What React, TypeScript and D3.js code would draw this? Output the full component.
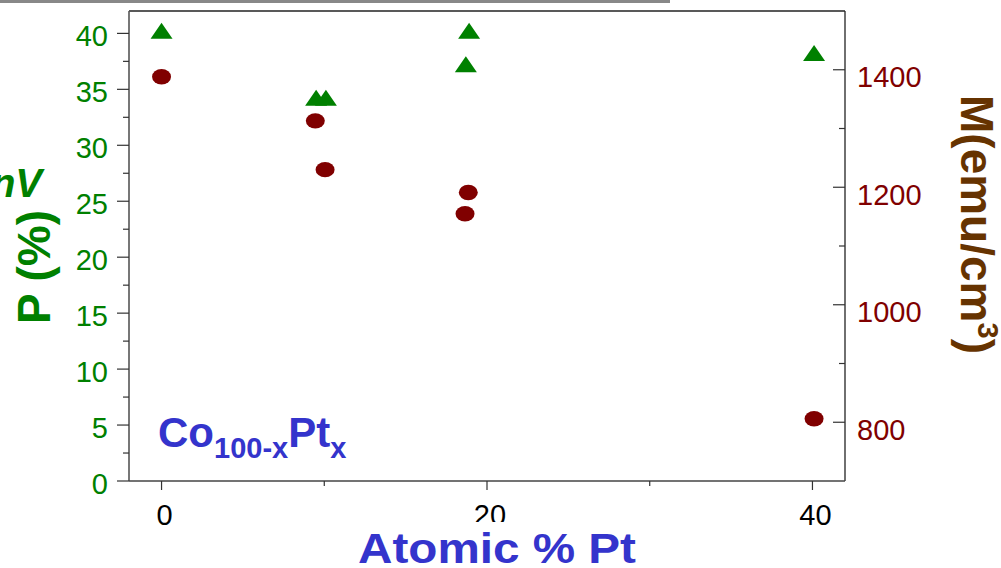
import React from 'react';
import * as d3 from 'd3';

// Atomic % Pt for each measured sample
const pX = [0, 9.5, 10.1, 18.9, 18.7, 40.1];
const pValues = [40, 34, 34, 40, 37, 38]; // P (%)
const mX = [0, 9.45, 10.05, 18.85, 18.65, 40.1];
const mValues = [1388, 1313, 1230, 1191, 1155, 806]; // M (emu/cm3)

const xTicks = [0, 20, 40];
const xMinorTicks = [10, 30];
const pTicks = [0, 5, 10, 15, 20, 25, 30, 35, 40];
const pMinorTicks = [2.5, 7.5, 12.5, 17.5, 22.5, 27.5, 32.5, 37.5];
const mTicks = [800, 1000, 1200, 1400];
const mMinorTicks = [900, 1100, 1300];

const W = 1001;
const H = 568;
const L = 129, R = 845, T = 11, B = 481;

const GREEN = '#008000';
const RED = '#800000';
const BROWN = '#663300';
const BLUE = '#3434cc';
const FONT = '"Liberation Sans", Arial, sans-serif';

export default function App() {
  const x = d3.scaleLinear().domain([-2, 42]).range([L, R]);
  const yP = d3.scaleLinear().domain([0, 42]).range([B, T]);
  const yM = d3.scaleLinear().domain([700, 1500]).range([B, T]);

  const tri = (cx: number, cy: number) => {
    const path = d3.path();
    path.moveTo(cx, cy - 10.7);
    path.lineTo(cx + 11, cy + 5.3);
    path.lineTo(cx - 11, cy + 5.3);
    path.closePath();
    return path.toString();
  };

  return (
    <div style={{ position: 'fixed', left: 0, top: 0 }}>
      <svg width={W} height={H} style={{ display: 'block', background: '#fff' }}>
        <rect x={0} y={0} width={670} height={3} fill="#888" />

        {/* frame */}
        <line x1={L} y1={T} x2={R} y2={T} stroke="#222" strokeWidth={1.3} />
        <line x1={R} y1={T} x2={R} y2={B} stroke="#222" strokeWidth={1.3} />
        <line x1={L} y1={T} x2={L} y2={B} stroke="#555" strokeWidth={1.6} />
        <line x1={L} y1={B} x2={R} y2={B} stroke="#444" strokeWidth={1.5} />

        {/* left axis ticks */}
        {pTicks.map((v) => (
          <g key={'pt' + v}>
            <line x1={117} x2={L} y1={yP(v)} y2={yP(v)} stroke="#333" strokeWidth={1.2} />
            <text x={108} y={yP(v) + 3} textAnchor="end" dominantBaseline="central"
              fill={GREEN} fontFamily={FONT} fontSize={29}>{v}</text>
          </g>
        ))}
        {pMinorTicks.map((v) => (
          <line key={'pm' + v} x1={123} x2={L} y1={yP(v)} y2={yP(v)} stroke="#333" strokeWidth={1.2} />
        ))}

        {/* right axis ticks (inside) */}
        {mTicks.map((v) => (
          <g key={'mt' + v}>
            <line x1={833} x2={R} y1={yM(v)} y2={yM(v)} stroke="#333" strokeWidth={1.2} />
            <text x={857} y={yM(v) + 7.5} textAnchor="start" dominantBaseline="central"
              fill={RED} fontFamily={FONT} fontSize={29}>{v}</text>
          </g>
        ))}
        {mMinorTicks.map((v) => (
          <line key={'mm' + v} x1={839} x2={R} y1={yM(v)} y2={yM(v)} stroke="#333" strokeWidth={1.2} />
        ))}

        {/* bottom axis ticks */}
        {xTicks.map((v) => (
          <g key={'xt' + v}>
            <line x1={x(v)} x2={x(v)} y1={B} y2={490} stroke="#333" strokeWidth={1.2} />
            <text x={x(v) + 3} y={525} textAnchor="middle"
              fill="#000" fontFamily={FONT} fontSize={29}>{v}</text>
          </g>
        ))}
        {xMinorTicks.map((v) => (
          <line key={'xm' + v} x1={x(v)} x2={x(v)} y1={B} y2={486} stroke="#333" strokeWidth={1.2} />
        ))}

        {/* data: M circles */}
        {mValues.map((v, i) => (
          <ellipse key={'m' + i} cx={x(mX[i])} cy={yM(v)} rx={9.5} ry={7.7} fill={RED} />
        ))}
        {/* data: P triangles */}
        {pValues.map((v, i) => (
          <path key={'p' + i} d={tri(x(pX[i]), yP(v))} fill={GREEN} />
        ))}

        {/* labels */}
        <text x={158} y={447} fill={BLUE} fontFamily={FONT} fontWeight="bold" fontSize={42}>
          Co<tspan fontSize={29} dy={11}>100-x</tspan><tspan dy={-11}>Pt</tspan><tspan fontSize={29} dy={11}>x</tspan>
        </text>

        <text x={42} y={197} textAnchor="end" fill={GREEN} fontFamily={FONT}
          fontWeight="bold" fontStyle="italic" fontSize={40}>nV</text>

        <text transform="translate(50,267) rotate(-90)" textAnchor="middle" fill={GREEN}
          fontFamily={FONT} fontWeight="bold" fontSize={46}>P (%)</text>

        <text transform="translate(961,95) rotate(90)" textAnchor="start" fill={BROWN}
          fontFamily={FONT} fontWeight="bold" fontSize={46}>
          M(emu/cm<tspan fontSize={29} dy={-17}>3</tspan><tspan dy={17}>)</tspan>
        </text>

        <rect x={340} y={522} width={320} height={46} fill="#fff" />
        <text x={358} y={563} textAnchor="start" fill={BLUE} fontFamily={FONT}
          fontWeight="bold" fontSize={43} textLength={278} lengthAdjust="spacingAndGlyphs">Atomic % Pt</text>
      </svg>
    </div>
  );
}
